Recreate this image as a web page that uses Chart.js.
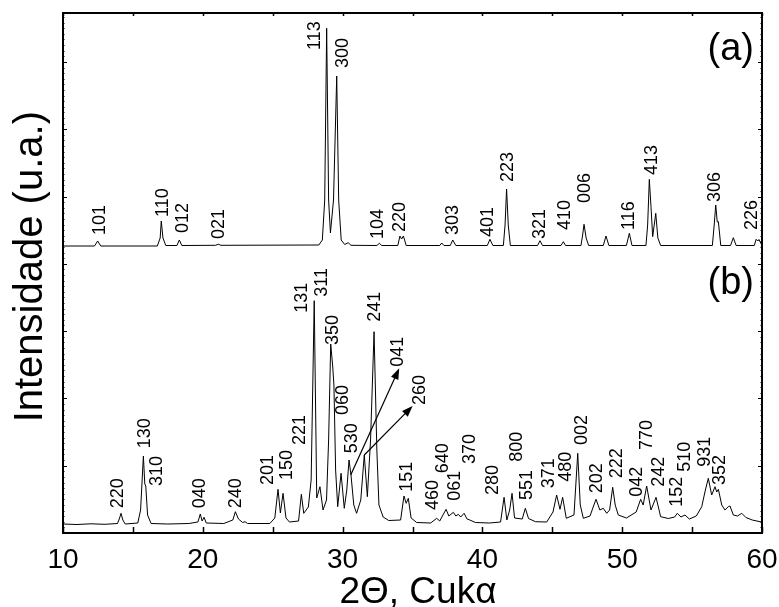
<!DOCTYPE html>
<html>
<head>
<meta charset="utf-8">
<style>
  html, body { margin: 0; padding: 0; background: #fff; }
  canvas { display: block; }
</style>
</head>
<body>
<canvas id="xrd" width="779" height="607"></canvas>

<script src="https://cdn.jsdelivr.net/npm/chart.js"></script>
<script>
// Difractograma (a) - ángulo 2θ e intensidade (u.a.)
var twoThetaA = [10.0, 11.5, 12.25, 12.48, 12.7, 16.75, 16.95, 17.03, 17.15, 17.35, 18.15, 18.32, 18.5,
  20.9, 21.11, 21.3, 28.3, 28.55, 28.72, 28.86, 29.0, 29.13, 29.35, 29.58, 29.72, 29.9, 30.15, 30.4, 30.6,
  32.45, 32.63, 32.8, 33.95, 34.1, 34.22, 34.35, 34.55, 36.95, 37.09, 37.25, 37.7, 37.88, 38.1,
  40.35, 40.54, 40.75, 41.5, 41.62, 41.73, 41.85, 42.0, 43.95, 44.12, 44.3, 45.62, 45.79, 45.95,
  47.05, 47.17, 47.27, 47.42, 47.6, 48.65, 48.84, 49.05, 50.3, 50.51, 50.7, 51.7, 51.82, 51.94, 52.06,
  52.18, 52.4, 52.55, 52.75, 56.45, 56.58, 56.69, 56.8, 56.88, 57.05, 57.75, 57.95, 58.15,
  59.45, 59.58, 59.7, 59.78, 60.0];
var intensityA = [287, 287, 287, 292, 287, 287, 295, 312, 295, 287.5, 287.5, 293, 287.5,
  287.7, 288.7, 287.7, 288, 293, 333, 504.7, 333, 300, 333, 457, 333, 293, 288.5, 290.3, 287.7,
  287.5, 289.7, 287.5, 287.5, 297, 294, 297, 287.5, 287.5, 290, 287.5, 287.5, 293, 287.5,
  287.5, 293.7, 287.5, 287.5, 308, 344, 308, 287.5, 287.5, 292.3, 287.5, 287.5, 291.3, 287.5,
  287.5, 298, 308.7, 295, 287.5, 287.5, 297, 287.5, 287.5, 299.7, 287.5, 287.5, 308, 353.7, 326.3,
  296.3, 319.7, 295, 287.5, 287.5, 308, 328, 311, 311.3, 287.5, 287.5, 295.3, 287.5,
  287.5, 293.7, 292, 293.5, 287.5];

// Difractograma (b)
var twoThetaB = [10.0, 11.0, 12.0, 13.0, 13.9, 14.05, 14.15, 14.28, 14.45, 15.35, 15.55, 15.75, 15.85, 15.92,
  16.05, 16.3, 17.5, 19.0, 19.65, 19.82, 19.95, 20.09, 20.25, 21.5, 22.15, 22.33, 22.55, 22.85, 23.02, 23.2,
  24.8, 25.15, 25.38, 25.55, 25.74, 25.95, 26.2, 26.85, 27.05, 27.22, 27.55, 27.75, 27.97, 28.15, 28.38,
  28.6, 28.85, 29.0, 29.15, 29.29, 29.38, 29.5, 29.65, 29.89, 30.12, 30.3, 30.46, 30.6, 30.8, 31.0, 31.3,
  31.55, 31.77, 32.0, 32.25, 32.45, 32.6, 32.9, 33.3, 34.15, 34.39, 34.55, 34.7, 34.9, 35.3, 36.3, 36.73,
  36.95, 37.4, 37.6, 37.92, 38.1, 38.28, 38.45, 38.69, 38.9, 39.1, 39.5, 40.5, 41.3, 41.55, 41.75, 41.95,
  42.12, 42.3, 42.85, 43.07, 43.3, 43.8, 44.6, 45.05, 45.31, 45.55, 45.74, 46.0, 46.55, 46.82, 47.0, 47.22,
  47.7, 47.95, 48.13, 48.4, 48.65, 48.89, 49.1, 49.32, 49.5, 49.72, 50.3, 51.0, 51.32, 51.5, 51.75, 52.06,
  52.42, 52.75, 53.3, 53.75, 53.94, 54.2, 54.49, 54.8, 55.3, 55.69, 55.95, 56.16, 56.4, 56.64, 56.76, 56.88,
  57.12, 57.35, 57.59, 57.71, 57.95, 58.25, 58.55, 58.85, 59.3, 59.86, 60.0];
var intensityB = [9, 8.5, 9.2, 8.7, 9.5, 15, 19.7, 13, 9, 10, 23, 77, 49, 47,
  18, 9.5, 9, 9.5, 11, 19, 12, 15.7, 10, 9.5, 13, 21.3, 14, 10.5, 11.3, 9.5,
  9.5, 15, 43.7, 20, 39.7, 15, 11, 12, 38.7, 19.7, 26, 53, 232.3, 35, 46.3,
  23, 33, 93, 189, 167, 148, 63, 26.3, 59.7, 24.7, 43, 73, 58, 28, 19.7, 33,
  78, 36.3, 93, 201.3, 83, 28, 16, 12.5, 13, 37, 29.7, 34.7, 15, 10.5, 10, 14.7,
  12, 23.7, 17, 20.7, 17, 18.7, 16, 19.7, 14, 13, 10.5, 10, 11, 35.7, 13, 23,
  39.7, 15, 14, 24.7, 14.5, 11.3, 11, 21, 38, 23.7, 35.7, 14.7, 18, 79.7, 28, 14.7,
  17, 27, 33.7, 23, 24.7, 19.7, 23, 45.7, 28, 18, 15, 21, 33.7, 28, 47, 23,
  35.7, 16.3, 14.5, 16, 19.7, 16, 18, 14, 17, 26.3, 43, 54.7, 38, 46.3, 41, 43.7,
  28, 23, 26.3, 27, 18, 17, 19.7, 15.5, 13, 11.3, 11];

// Índices de Miller (a)
var hklA = ['101', '110', '012', '021', '113', '300', '104', '220', '303', '401', '223', '321', '410', '006', '116', '413', '306', '226'];
var hklAx = [12.65, 17.17, 18.56, 21.18, 28.03, 30.05, 32.55, 34.11, 37.88, 40.42, 41.85, 44.12, 45.91, 47.34, 50.51, 52.11, 56.64, 59.26];
var hklAy = [298, 316, 300, 294, 483, 465, 294, 301, 298, 296, 351, 294, 303, 330, 303, 358, 331, 303];

// Índices de Miller (b)
var hklB = ['220', '130', '310', '040', '240', '201', '150', '221', '131', '311', '350', '060', '530', '241', '041', '260',
  '151', '460', '640', '061', '370', '280', '800', '551', '371', '480', '002', '202', '222', '042', '770', '242',
  '152', '510', '931', '352'];
var hklBx = [13.96, 15.87, 16.70, 19.80, 22.37, 24.69, 26.0, 26.95, 27.07, 28.5, 29.33, 30.05, 30.65, 32.32, 33.98, 35.54,
  34.59, 36.49, 37.2, 38.04, 39.11, 40.78, 42.45, 43.17, 44.79, 45.98, 47.1, 48.18, 49.65, 51.04, 51.75, 52.65,
  53.9, 54.49, 55.92, 56.99];
var hklBy = [24.7, 84.7, 47, 24.7, 24.7, 48, 53, 88, 220.3, 236.3, 188, 118, 79.7, 211.3, 166.3, 128,
  41.3, 23, 59.7, 32.3, 69, 38, 71.3, 33, 44.7, 51.3, 88, 39.7, 54.7, 36.3, 83, 46.3,
  26.3, 61.3, 66.3, 48];

// Setas (041 e 260): início e fim
var arrowFrom = [[30.58, 58], [31.55, 78]];
var arrowTo = [[34.05, 164.7], [35.01, 127]];

// Eixos
var xTickLabels = [10, 20, 30, 40, 50, 60];
var xMinorStep = 5;
var yStep = 67.3;

var FONT = '"Liberation Sans", Arial, Helvetica, sans-serif';

function vtext(ctx, txt, x, y, size) {
  ctx.save();
  ctx.translate(x, y);
  ctx.rotate(-Math.PI / 2);
  ctx.font = size + 'px ' + FONT;
  ctx.textAlign = 'left';
  ctx.textBaseline = 'middle';
  ctx.fillText(txt, 0, 0);
  ctx.restore();
}

var decoracao = {
  id: 'decoracao',
  afterDraw: function (chart) {
    var ctx = chart.ctx;
    var a = chart.chartArea;
    var xs = chart.scales.x, ys = chart.scales.y;
    ctx.save();
    ctx.strokeStyle = '#000';
    ctx.fillStyle = '#000';

    // moldura
    ctx.lineWidth = 2;
    ctx.strokeRect(a.left, a.top, a.right - a.left, a.bottom - a.top);

    // marcas do eixo x (para dentro)
    ctx.lineWidth = 1.5;
    for (var v = xs.min; v <= xs.max; v += xMinorStep) {
      var px = Math.round(xs.getPixelForValue(v)) + 0.5;
      ctx.beginPath();
      ctx.moveTo(px, a.bottom); ctx.lineTo(px, a.bottom - 6);
      ctx.moveTo(px, a.top); ctx.lineTo(px, a.top + 3);
      ctx.stroke();
    }
    // marcas do eixo y
    ctx.lineWidth = 1;
    for (var w = 0; w <= ys.max; w += yStep / 12) {
      var py = Math.round(ys.getPixelForValue(w)) + 0.5;
      var major = Math.abs(w / yStep - Math.round(w / yStep)) < 0.01;
      var len = major ? 4 : 1.5;
      ctx.beginPath();
      ctx.moveTo(a.left, py); ctx.lineTo(a.left + len, py);
      ctx.moveTo(a.right, py); ctx.lineTo(a.right - len, py);
      ctx.stroke();
    }

    // rótulos do eixo x
    ctx.font = '28px ' + FONT;
    ctx.textAlign = 'center';
    ctx.textBaseline = 'alphabetic';
    xTickLabels.forEach(function (t) {
      ctx.fillText(String(t), xs.getPixelForValue(t), 568);
    });

    // títulos dos eixos
    ctx.font = '37px ' + FONT;
    ctx.fillText('2\u0398, Cuk\u03B1', 418, 603);
    ctx.save();
    ctx.translate(42, 266.7);
    ctx.rotate(-Math.PI / 2);
    ctx.font = '40px ' + FONT;
    ctx.textAlign = 'center';
    ctx.textBaseline = 'alphabetic';
    ctx.fillText('Intensidade (u.a.)', 0, 0);
    ctx.restore();

    // (a) e (b)
    ctx.font = '38px ' + FONT;
    ctx.textAlign = 'right';
    ctx.fillText('(a)', 754, 60);
    ctx.fillText('(b)', 754, 294);

    // índices
    hklA.forEach(function (t, i) {
      vtext(ctx, t, xs.getPixelForValue(hklAx[i]), ys.getPixelForValue(hklAy[i]), 18);
    });
    hklB.forEach(function (t, i) {
      vtext(ctx, t, xs.getPixelForValue(hklBx[i]), ys.getPixelForValue(hklBy[i]), 18);
    });

    // setas
    ctx.lineWidth = 1.2;
    arrowFrom.forEach(function (p, i) {
      var x0 = xs.getPixelForValue(p[0]), y0 = ys.getPixelForValue(p[1]);
      var x1 = xs.getPixelForValue(arrowTo[i][0]), y1 = ys.getPixelForValue(arrowTo[i][1]);
      var ang = Math.atan2(y1 - y0, x1 - x0);
      ctx.beginPath();
      ctx.moveTo(x0, y0);
      ctx.lineTo(x1 - 8 * Math.cos(ang), y1 - 8 * Math.sin(ang));
      ctx.stroke();
      ctx.beginPath();
      ctx.moveTo(x1, y1);
      ctx.lineTo(x1 - 11 * Math.cos(ang) + 4 * Math.sin(ang), y1 - 11 * Math.sin(ang) - 4 * Math.cos(ang));
      ctx.lineTo(x1 - 11 * Math.cos(ang) - 4 * Math.sin(ang), y1 - 11 * Math.sin(ang) + 4 * Math.cos(ang));
      ctx.closePath();
      ctx.fill();
    });
    ctx.restore();
  }
};

function pontos(xx, yy) {
  return xx.map(function (x, i) { return { x: x, y: yy[i] }; });
}

var ctx = document.getElementById('xrd').getContext('2d');
var grafico = new Chart(ctx, {
  type: 'line',
  data: {
    datasets: [
      { label: '(a)', data: pontos(twoThetaA, intensityA), borderColor: '#000', borderWidth: 1, pointRadius: 0, tension: 0, fill: false },
      { label: '(b)', data: pontos(twoThetaB, intensityB), borderColor: '#000', borderWidth: 1, pointRadius: 0, tension: 0, fill: false }
    ]
  },
  options: {
    responsive: false,
    animation: false,
    layout: { padding: { left: 63, right: 17, top: 13, bottom: 74 } },
    plugins: { legend: { display: false }, tooltip: { enabled: false } },
    scales: {
      x: {
        type: 'linear', min: 10, max: 60,
        ticks: { display: false, stepSize: 5 },
        grid: { display: false, drawTicks: false },
        border: { display: false }
      },
      y: {
        type: 'linear', min: 0, max: 520,
        ticks: { display: false, stepSize: yStep },
        grid: { display: false, drawTicks: false },
        border: { display: false }
      }
    }
  },
  plugins: [decoracao]
});
</script>
</body>
</html>
